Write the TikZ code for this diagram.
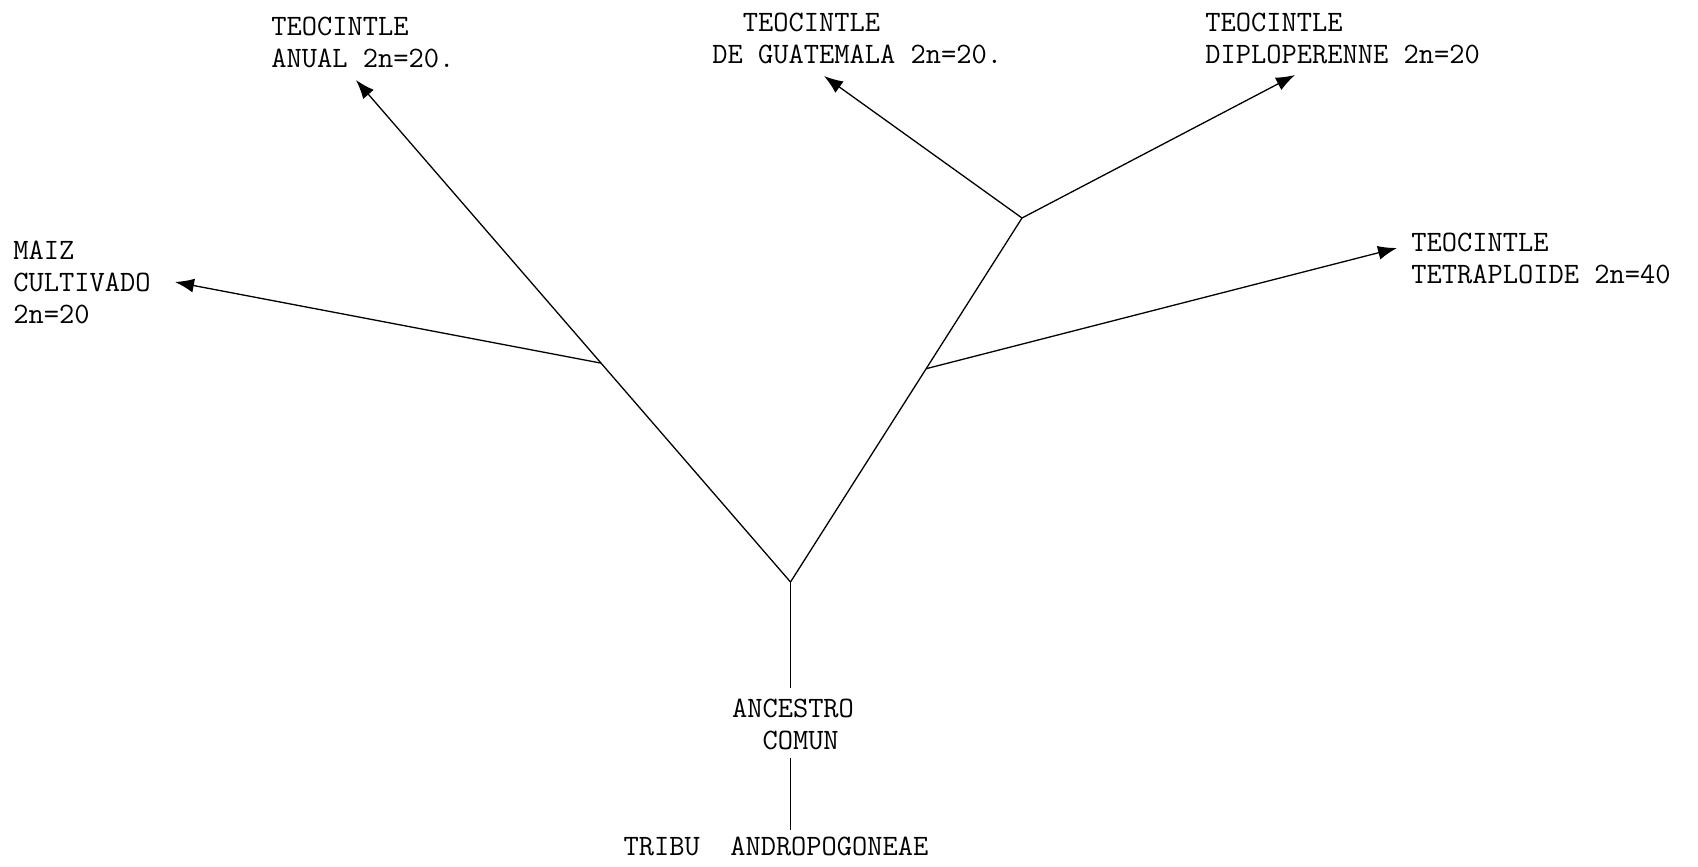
\documentclass[tikz,border=0pt]{standalone}
\usetikzlibrary{arrows.meta,calc}
\begin{document}
\begin{tikzpicture}[x=0.5pt,y=-0.5pt,
  lbl/.style={font=\fontsize{14.8}{16}\selectfont\ttfamily, inner sep=0pt, align=left, anchor=west},
  branch/.style={line width=0.65pt},
  arr/.style={branch, -{Latex[length=9.5pt,width=7pt]}}]
\useasboundingbox (0,0) rectangle (1698,867);
% key points
\coordinate (R) at (790.5,582);
\coordinate (F) at (1022,218);
\coordinate (Atip) at (356,80);
\coordinate (Gtip) at (824,76);
\coordinate (Dtip) at (1295,75);
\coordinate (Ttip) at (1397,248);
\coordinate (Mtip) at (175,282);
\coordinate (Mj) at ($(R)!0.436!(Atip)$);
\coordinate (Tj) at ($(R)!0.586!(F)$);
% labels
\node[lbl] (anual) at (271,42) {TEOCINTLE\\ANUAL 2n=20.};
\node[lbl] (guat) at (712,38) {\ \ TEOCINTLE\\DE GUATEMALA 2n=20.};
\node[lbl] (diplo) at (1205,38) {TEOCINTLE\\DIPLOPERENNE 2n=20};
\node[lbl] (tetra) at (1411,258) {TEOCINTLE\\TETRAPLOIDE 2n=40};
\node[lbl] (maiz) at (13,282) {MAIZ\\CULTIVADO\\2n=20};
\node[lbl, align=center, anchor=center] (anc) at (793,724) {ANCESTRO\\\ COMUN};
\node[lbl, anchor=center] (tribu) at (776,846) {TRIBU\ \ ANDROPOGONEAE};
\coordinate (ancTop) at (790.5,688);
\coordinate (ancBot) at (790.5,758);
\coordinate (tribuTop) at (790.5,830);
% branches
\draw[branch] (tribuTop) -- (ancBot);
\draw[branch] (ancTop) -- (R);
\draw[arr] (R) -- (Atip);
\draw[branch] (R) -- (F);
\draw[arr] (F) -- (Gtip);
\draw[arr] (F) -- (Dtip);
\draw[arr] (Mj) -- (Mtip);
\draw[arr] (Tj) -- (Ttip);
\end{tikzpicture}
\end{document}
